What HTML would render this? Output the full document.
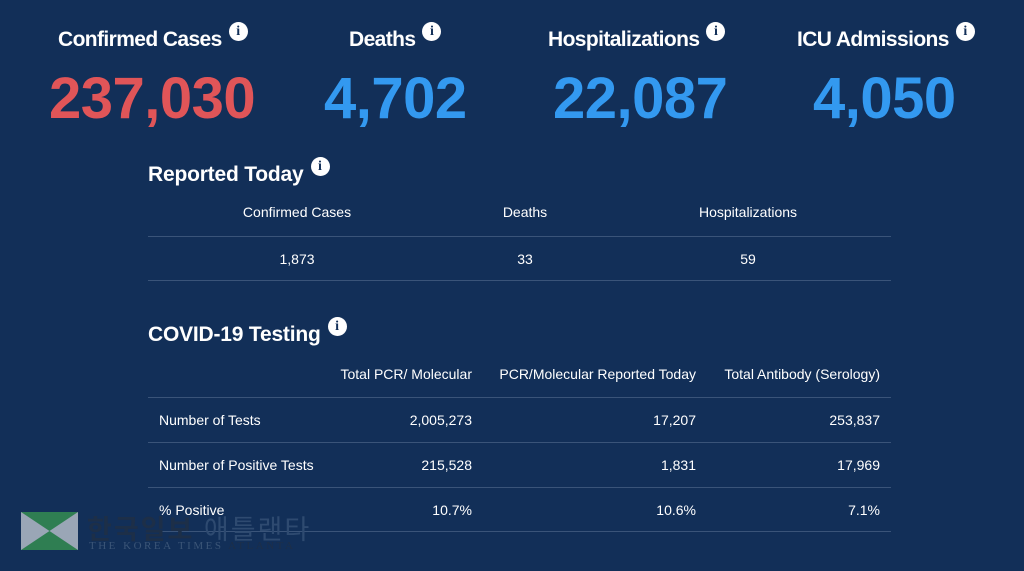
<!DOCTYPE html>
<html><head><meta charset="utf-8"><style>
body{margin:0;width:1024px;height:571px;background:#122f58;font-family:"Liberation Sans","Noto Sans CJK KR",sans-serif;color:#fff;position:relative;overflow:hidden}
.a{position:absolute;white-space:nowrap}
.h{font-weight:bold;font-size:21px;letter-spacing:-0.6px}
.h2{font-weight:bold;font-size:21px;letter-spacing:-0.2px}
.i{display:inline-block;width:19px;height:19px;border-radius:50%;background:#fff;color:#122f58;font-size:14px;font-weight:bold;text-align:center;line-height:19px;vertical-align:top;margin-left:7px;margin-top:-6px;font-family:"Liberation Serif",serif;letter-spacing:0}
.n{font-weight:bold;font-size:58px;letter-spacing:-0.5px}
.t{font-size:14px}
.ln{position:absolute;left:148px;width:743px;height:1px;background:#3a5479}
.c{transform:translateX(-50%)}
</style></head><body>
<div class="a h" style="left:58px;top:28px">Confirmed Cases<span class="i">i</span></div>
<div class="a h" style="left:349px;top:28px">Deaths<span class="i">i</span></div>
<div class="a h" style="left:548px;top:28px">Hospitalizations<span class="i">i</span></div>
<div class="a h" style="left:797px;top:28px">ICU Admissions<span class="i">i</span></div>
<div class="a n" style="left:49px;top:65px;color:#e05558">237,030</div>
<div class="a n" style="left:324px;top:65px;color:#3399f0">4,702</div>
<div class="a n" style="left:553px;top:65px;color:#3399f0">22,087</div>
<div class="a n" style="left:813px;top:65px;color:#3399f0">4,050</div>

<div class="a h2" style="left:148px;top:163px">Reported Today<span class="i">i</span></div>
<div class="a t c" style="left:297px;top:204px">Confirmed Cases</div>
<div class="a t c" style="left:525px;top:204px">Deaths</div>
<div class="a t c" style="left:748px;top:204px">Hospitalizations</div>
<div class="ln" style="top:236px"></div>
<div class="a t c" style="left:297px;top:251px">1,873</div>
<div class="a t c" style="left:525px;top:251px">33</div>
<div class="a t c" style="left:748px;top:251px">59</div>
<div class="ln" style="top:280px"></div>

<div class="a h2" style="left:148px;top:323px">COVID-19 Testing<span class="i">i</span></div>
<div class="a t" style="right:552px;top:366px">Total PCR/ Molecular</div>
<div class="a t" style="right:328px;top:366px">PCR/Molecular Reported Today</div>
<div class="a t" style="right:144px;top:366px">Total Antibody (Serology)</div>
<div class="ln" style="top:397px"></div>
<div class="a t" style="left:159px;top:412px">Number of Tests</div>
<div class="a t" style="right:552px;top:412px">2,005,273</div>
<div class="a t" style="right:328px;top:412px">17,207</div>
<div class="a t" style="right:144px;top:412px">253,837</div>
<div class="ln" style="top:442px"></div>
<div class="a t" style="left:159px;top:457px">Number of Positive Tests</div>
<div class="a t" style="right:552px;top:457px">215,528</div>
<div class="a t" style="right:328px;top:457px">1,831</div>
<div class="a t" style="right:144px;top:457px">17,969</div>
<div class="ln" style="top:487px"></div>
<div class="a t" style="left:159px;top:502px">% Positive</div>
<div class="a t" style="right:552px;top:502px">10.7%</div>
<div class="a t" style="right:328px;top:502px">10.6%</div>
<div class="a t" style="right:144px;top:502px">7.1%</div>
<div class="ln" style="top:531px"></div>

<svg class="a" style="left:21px;top:512px" width="57" height="38"><rect width="57" height="38" fill="#9aa6b6"/><polygon points="0,0 28.5,19 57,0" fill="#2f7e52"/><polygon points="0,38 28.5,19 57,38" fill="#2f7e52"/></svg>
<div class="a" style="left:87px;top:508px;font-size:27px;font-weight:bold;color:#1d2f48;letter-spacing:2px">한국일보<span style="color:#2e4a70;font-weight:normal"> 애틀랜타</span></div>
<div class="a" style="left:89px;top:540px;font-size:11px;color:#3b5577;letter-spacing:2.5px;font-family:'Liberation Serif',serif">THE KOREA TIMES <span style="color:#1d2f48">ATLANTA</span></div>
</body></html>
